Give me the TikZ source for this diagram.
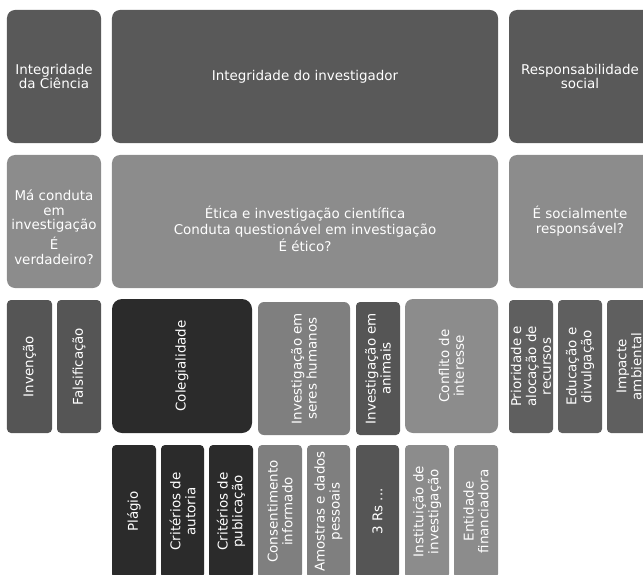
\documentclass[tikz,border=0pt]{standalone}
\usepackage{fontspec}
\setmainfont{DejaVu Sans}
\definecolor{cone}{HTML}{595959}
\definecolor{ctwo}{HTML}{8C8C8C}
\definecolor{cdark}{HTML}{2B2B2B}
\definecolor{cmid}{HTML}{555555}
\definecolor{cgray}{HTML}{7F7F7F}
\definecolor{clight}{HTML}{8C8C8C}
\definecolor{cpri}{HTML}{5F5F5F}
\tikzset{
  bx/.style={draw=none, inner sep=1bp, align=center, text=white,
    font=\fontsize{13.5}{15}\selectfont, rounded corners=8bp},
  vbx/.style={bx, rotate=90, rounded corners=4bp},
}
\begin{document}
\begin{tikzpicture}[x=1bp,y=-1bp]
\useasboundingbox (0,0) rectangle (643,575);
\clip (0,0) rectangle (643,575);
% row 1
\node[bx, fill=cone, minimum width=94bp, minimum height=133bp] (ic) at (54,76.5) {Integridade\\da Ciência};
\node[bx, fill=cone, minimum width=386bp, minimum height=133bp] (ii) at (305,76.5) {Integridade do investigador};
\node[bx, fill=cone, minimum width=142bp, minimum height=133bp] (rs) at (580,76.5) {Responsabilidade\\social};
% row 2
\node[bx, fill=ctwo, minimum width=94bp, minimum height=133bp, font=\fontsize{13.5}{14.5}\selectfont, text height=86bp] (mc) at (54,221.5) {Má conduta\\em\\investigação\\[4bp]É\\verdadeiro?};
\node[bx, fill=ctwo, minimum width=386bp, minimum height=133bp, text height=60bp] (et) at (305,221.5) {Ética e investigação científica\\[1bp]Conduta questionável em investigação\\[1bp]É ético?};
\node[bx, fill=ctwo, minimum width=142bp, minimum height=133bp] (es) at (580,221.5) {É socialmente\\responsável?};
% row 3
\node[vbx, fill=cmid, minimum width=133bp, minimum height=45bp] (inv) at (29.5,366.5) {Invenção};
\node[vbx, fill=cmid, minimum width=133bp, minimum height=44bp] (fal) at (79,366.5) {Falsificação};
\node[vbx, fill=cdark, rounded corners=10bp, minimum width=134bp, minimum height=140bp] (col) at (182,366) {Colegialidade};
\node[vbx, fill=cgray, rounded corners=6bp, minimum width=133bp, minimum height=92bp] (sh) at (304,368.5) {Investigação em\\seres humanos};
\node[vbx, fill=cmid, minimum width=133bp, minimum height=44bp] (an) at (378,368.5) {Investigação em\\animais};
\node[vbx, fill=clight, rounded corners=8bp, minimum width=134bp, minimum height=93bp] (ci) at (451.5,366) {Conflito de\\interesse};
\node[vbx, fill=cpri, minimum width=133bp, minimum height=44bp] (pr) at (531,366.5) {Prioridade e\\alocação de\\recursos};
\node[vbx, fill=cpri, minimum width=133bp, minimum height=44bp] (ed) at (580,366.5) {Educação e\\divulgação};
\node[vbx, fill=cpri, minimum width=133bp, minimum height=44bp] (ia) at (629,366.5) {Impacte\\ambiental};
% row 4
\node[vbx, fill=cdark, minimum width=133bp, minimum height=44bp] (pl) at (134,511.5) {Plágio};
\node[vbx, fill=cdark, minimum width=133bp, minimum height=43bp] (ca) at (182.5,511.5) {Critérios de\\autoria};
\node[vbx, fill=cdark, minimum width=133bp, minimum height=44bp] (cp) at (231,511.5) {Critérios de\\publicação};
\node[vbx, fill=cgray, minimum width=133bp, minimum height=44bp] (co) at (280,511.5) {Consentimento\\informado};
\node[vbx, fill=cgray, minimum width=133bp, minimum height=43bp] (am) at (328.5,511.5) {Amostras e dados\\pessoais};
\node[vbx, fill=cmid, minimum width=133bp, minimum height=43bp] (r3) at (377.5,511.5) {3 Rs ...};
\node[vbx, fill=clight, minimum width=133bp, minimum height=44bp] (is) at (427,511.5) {Instituição de\\investigação};
\node[vbx, fill=clight, minimum width=133bp, minimum height=44bp] (en) at (476,511.5) {Entidade\\financiadora};
\end{tikzpicture}
\end{document}
